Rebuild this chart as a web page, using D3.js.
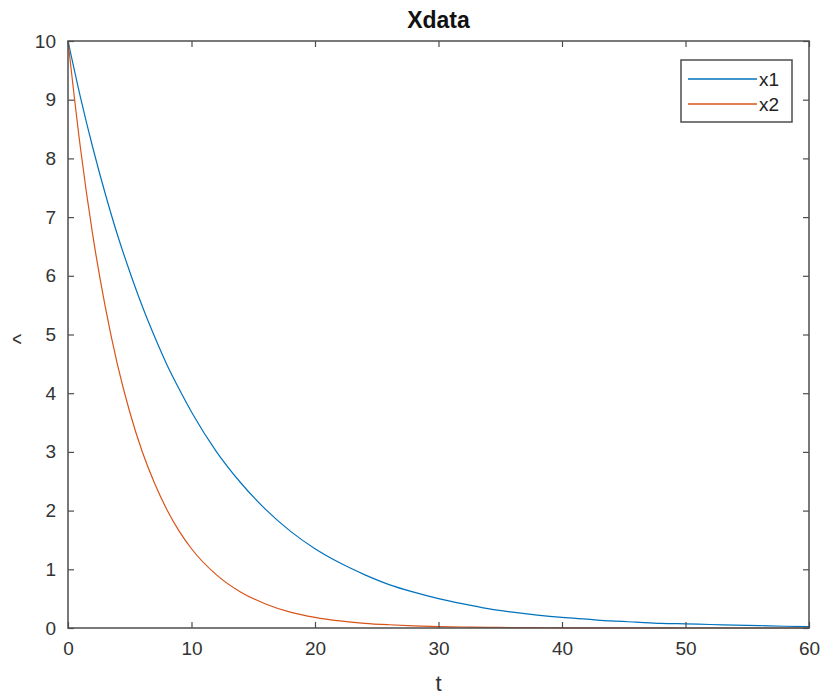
<!DOCTYPE html>
<html><head><meta charset="utf-8">
<script src="https://cdn.jsdelivr.net/npm/d3@7"></script>
<style>body{margin:0;background:#fff;}svg{display:block;font-family:"Liberation Sans",Arial,sans-serif;}</style>
</head><body><svg id="c" width="820" height="697"></svg>
<script>
const tValues = [0,1,2,3,4,5,6,7,8,9,10,12,14,16,18,20,22,24,26,28,30,32,34,36,38,40,42,44,46,48,50,52,54,56,58,60];
const x1Values = [10,9.05,8.19,7.41,6.70,6.07,5.49,4.97,4.49,4.07,3.68,3.01,2.47,2.02,1.65,1.35,1.11,0.91,0.74,0.61,0.50,0.41,0.33,0.27,0.22,0.18,0.15,0.12,0.10,0.08,0.07,0.06,0.05,0.04,0.03,0.025];
const x2Values = [10,8.19,6.70,5.49,4.49,3.68,3.01,2.47,2.02,1.65,1.35,0.91,0.61,0.41,0.27,0.18,0.12,0.08,0.055,0.037,0.025,0.017,0.011,0.007,0.005,0.003,0.002,0.001,0.001,0.001,0,0,0,0,0,0];
const seriesNames = ["x1","x2"];
const seriesColors = ["#0072BD","#D95319"];
const xTicks = [0,10,20,30,40,50,60];
const yTicks = [0,1,2,3,4,5,6,7,8,9,10];
const titleText = "Xdata", xLabel = "t", yLabel = "^";

const svg = d3.select("#c");
const L=68, T=41, R=809, B=628;
const x = d3.scaleLinear().domain([0,60]).range([L,R]);
const y = d3.scaleLinear().domain([0,10]).range([B,T]);
const axisColor = "#4d4d4d", textColor = "#333";

const series = [x1Values, x2Values];
const line = d3.line().x((d,i)=>x(tValues[i])).y(d=>y(d)).curve(d3.curveMonotoneX);
series.forEach((s,k)=>{
  svg.append("path").datum(s).attr("d",line).attr("fill","none")
     .attr("stroke",seriesColors[k]).attr("stroke-width",1.2);
});

svg.append("rect").attr("x",L).attr("y",T).attr("width",R-L).attr("height",B-T)
   .attr("fill","none").attr("stroke",axisColor).attr("stroke-width",1.5);

function styleAxis(g){
  g.select(".domain").remove();
  g.selectAll("line").attr("stroke",axisColor).attr("stroke-width",1.2);
  g.selectAll("text").attr("fill",textColor).attr("font-size",19).attr("font-family","Liberation Sans, Arial, sans-serif");
}
svg.append("g").attr("transform",`translate(0,${B})`)
  .call(d3.axisBottom(x).tickValues(xTicks).tickSizeInner(-6).tickSizeOuter(0).tickPadding(14).tickFormat(d3.format("d")))
  .call(styleAxis);
svg.append("g").attr("transform",`translate(0,${T})`)
  .call(d3.axisTop(x).tickValues(xTicks).tickSizeInner(-6).tickSizeOuter(0).tickFormat(""))
  .call(styleAxis);
svg.append("g").attr("transform",`translate(${L},0)`)
  .call(d3.axisLeft(y).tickValues(yTicks).tickSizeInner(-6).tickSizeOuter(0).tickPadding(12).tickFormat(d3.format("d")))
  .call(styleAxis);
svg.append("g").attr("transform",`translate(${R},0)`)
  .call(d3.axisRight(y).tickValues(yTicks).tickSizeInner(-6).tickSizeOuter(0).tickFormat(""))
  .call(styleAxis);

svg.append("text").attr("x",(L+R)/2).attr("y",28).attr("text-anchor","middle")
  .attr("font-size",23).attr("font-weight","bold").attr("fill","#111").text(titleText);
svg.append("text").attr("x",(L+R)/2).attr("y",691).attr("text-anchor","middle")
  .attr("font-size",22).attr("fill",textColor).text(xLabel);
svg.append("text").attr("transform",`translate(28,339) rotate(-90)`).attr("text-anchor","middle")
  .attr("font-size",22).attr("fill",textColor).text(yLabel);

const lg = svg.append("g");
lg.append("rect").attr("x",681).attr("y",60).attr("width",111).attr("height",62)
  .attr("fill","#fff").attr("stroke",axisColor).attr("stroke-width",1.5);
seriesNames.forEach((n,k)=>{
  const yy = 79 + k*25;
  lg.append("line").attr("x1",688).attr("x2",757).attr("y1",yy).attr("y2",yy)
    .attr("stroke",seriesColors[k]).attr("stroke-width",1.3);
  lg.append("text").attr("x",759).attr("y",yy+7).attr("font-size",19).attr("fill","#222").text(n);
});
</script></body></html>
